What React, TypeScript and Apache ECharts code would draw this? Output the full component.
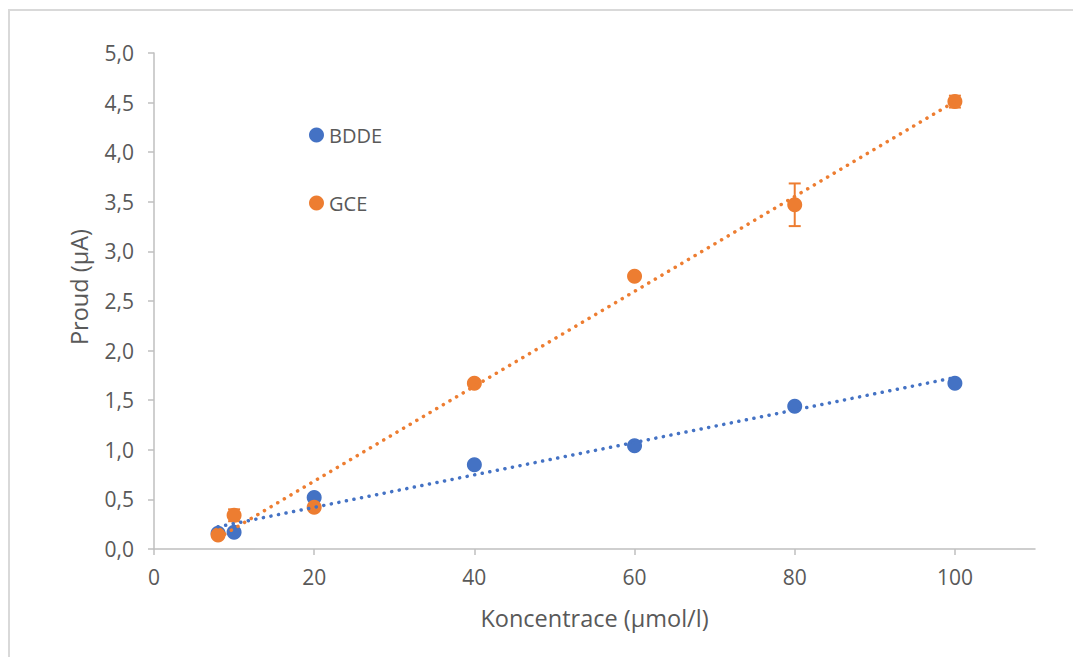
import React, { useEffect, useRef } from "react";
import * as echarts from "echarts";

// Concentrations (µmol/l)
const concentrations = [8, 10, 20, 40, 60, 80, 100];
// Measured current (µA)
const bddeCurrent = [0.16, 0.17, 0.52, 0.85, 1.04, 1.44, 1.67];
const gceCurrent = [0.14, 0.34, 0.42, 1.67, 2.75, 3.47, 4.51];
// Standard deviations (µA)
const bddeError = [0.03, 0.03, 0.0, 0.0, 0.0, 0.0, 0.0];
const gceError = [0.0, 0.06, 0.0, 0.0, 0.0, 0.215, 0.06];

const xTicks = [0, 20, 40, 60, 80, 100];

const BLUE = "#4472C4";
const ORANGE = "#ED7D31";
const TEXT = "#595959";
const AXIS = "#BFBFBF";
const FONT = "'Open Sans', 'Noto Sans', sans-serif";

// Least-squares linear fit, evaluated at the ends of the data range
function trend(xs: number[], ys: number[]): number[][] {
  const n = xs.length;
  const mx = xs.reduce((a, b) => a + b, 0) / n;
  const my = ys.reduce((a, b) => a + b, 0) / n;
  let sxy = 0;
  let sxx = 0;
  for (let i = 0; i < n; i++) {
    sxy += (xs[i] - mx) * (ys[i] - my);
    sxx += (xs[i] - mx) * (xs[i] - mx);
  }
  const k = sxy / sxx;
  const q = my - k * mx;
  const x0 = Math.min(...xs);
  const x1 = Math.max(...xs);
  return [
    [x0, k * x0 + q],
    [x1, k * x1 + q],
  ];
}

function errorSeries(name: string, ys: number[], errs: number[], color: string) {
  return {
    type: "custom",
    name,
    z: 3,
    silent: true,
    data: concentrations.map((x, i) => [x, ys[i], errs[i]]),
    renderItem: (_params: any, api: any) => {
      const x = api.value(0);
      const y = api.value(1);
      const e = api.value(2);
      if (!e) return null;
      const top = api.coord([x, y + e]);
      const bot = api.coord([x, y - e]);
      const cap = 6;
      const style = { stroke: color, lineWidth: 2 };
      return {
        type: "group",
        children: [
          { type: "line", shape: { x1: top[0], y1: top[1], x2: bot[0], y2: bot[1] }, style },
          { type: "line", shape: { x1: top[0] - cap, y1: top[1], x2: top[0] + cap, y2: top[1] }, style },
          { type: "line", shape: { x1: bot[0] - cap, y1: bot[1], x2: bot[0] + cap, y2: bot[1] }, style },
        ],
      };
    },
  };
}

export default function App() {
  const ref = useRef<HTMLDivElement>(null);

  useEffect(() => {
    if (!ref.current) return;
    const chart = echarts.init(ref.current, undefined, { renderer: "svg" });

    const dotted = (color: string) => ({
      color,
      width: 3.5,
      type: [0.1, 7.6],
      cap: "round",
    });

    chart.setOption({
      animation: false,
      backgroundColor: "#ffffff",
      textStyle: { fontFamily: FONT },
      graphic: [
        {
          type: "rect",
          shape: { x: 9, y: 10, width: 1200, height: 800 },
          style: { fill: "none", stroke: "#D9D9D9", lineWidth: 2 },
          silent: true,
          z: -10,
        },
      ],
      grid: { left: 154, top: 53, right: 38, bottom: 108, containLabel: false },
      legend: {
        data: ["BDDE", "GCE"],
        orient: "vertical",
        left: 304,
        top: 120,
        itemWidth: 15,
        itemHeight: 15,
        itemGap: 48,
        icon: "circle",
        textStyle: { color: TEXT, fontSize: 20, fontFamily: FONT, lineHeight: 20 },
        selectedMode: false,
      },
      xAxis: {
        type: "value",
        min: 0,
        max: 110,
        interval: 20,
        name: "Koncentrace (µmol/l)",
        nameLocation: "middle",
        nameGap: 57,
        nameTextStyle: { color: TEXT, fontSize: 23.5, fontFamily: FONT },
        axisLine: { show: true, onZero: false, lineStyle: { color: AXIS, width: 1.5 } },
        axisTick: {
          show: true,
          length: 6,
          lineStyle: { color: AXIS, width: 1.5 },
          customValues: xTicks,
        },
        axisLabel: {
          color: TEXT,
          fontSize: 21,
          fontFamily: FONT,
          margin: 17,
          customValues: xTicks,
        },
        splitLine: { show: false },
      },
      yAxis: {
        type: "value",
        min: 0,
        max: 5,
        interval: 0.5,
        name: "Proud (µA)",
        nameLocation: "middle",
        nameGap: 63,
        nameTextStyle: { color: TEXT, fontSize: 23.5, fontFamily: FONT, padding: [0, 0, 0, 28] },
        axisLine: { show: true, lineStyle: { color: AXIS, width: 1.5 } },
        axisTick: { show: true, length: 6, lineStyle: { color: AXIS, width: 1.5 } },
        axisLabel: {
          color: TEXT,
          fontSize: 21,
          fontFamily: FONT,
          margin: 20,
          formatter: (v: number) => v.toFixed(1).replace(".", ","),
        },
        splitLine: { show: false },
      },
      series: [
        errorSeries("BDDE err", bddeCurrent, bddeError, BLUE),
        errorSeries("GCE err", gceCurrent, gceError, ORANGE),
        {
          type: "scatter",
          name: "BDDE",
          z: 4,
          symbol: "circle",
          symbolSize: 15,
          itemStyle: { color: BLUE, opacity: 1 },
          data: concentrations.map((x, i) => [x, bddeCurrent[i]]),
        },
        {
          type: "scatter",
          name: "GCE",
          z: 4,
          symbol: "circle",
          symbolSize: 15,
          itemStyle: { color: ORANGE, opacity: 1 },
          data: concentrations.map((x, i) => [x, gceCurrent[i]]),
        },
        {
          type: "line",
          name: "BDDE trend",
          z: 5,
          symbol: "none",
          silent: true,
          lineStyle: dotted(BLUE),
          data: trend(concentrations, bddeCurrent),
        },
        {
          type: "line",
          name: "GCE trend",
          z: 5,
          symbol: "none",
          silent: true,
          lineStyle: dotted(ORANGE),
          data: trend(concentrations, gceCurrent),
        },
      ],
    });

    return () => chart.dispose();
  }, []);

  return (
    <div
      ref={ref}
      style={{ position: "absolute", left: 0, top: 0, width: 1073, height: 657 }}
    />
  );
}
